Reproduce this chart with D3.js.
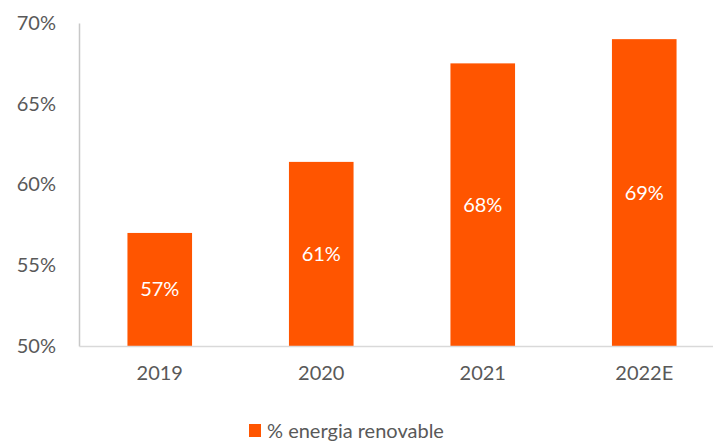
<!DOCTYPE html>
<html>
<head>
<meta charset="utf-8">
<script src="https://cdn.jsdelivr.net/npm/d3@7"></script>
<style>
	body { margin: 0; background: #fff; }
	text { font-family: Lato, "Open Sans", sans-serif; fill: #595959; }
</style>
</head>
<body>
<svg id="chart" width="713" height="441"></svg>
<script>
const categories = ["2019", "2020", "2021", "2022E"];
const values = [0.570, 0.614, 0.675, 0.690];
const valueLabels = ["57%", "61%", "68%", "69%"];
const yTicks = [0.50, 0.55, 0.60, 0.65, 0.70];
const seriesName = "% energia renovable";

const svg = d3.select("#chart");
const margin = { top: 23, left: 79, bottom: 346, right: 725 };
const barColor = "#ff5500";

let x = d3.scaleBand()
	.domain(categories)
	.range([margin.left, margin.right])
	.paddingInner(0.6)
	.paddingOuter(0.3);

let y = d3.scaleLinear()
	.domain([0.5, 0.7])
	.range([margin.bottom, margin.top]);

// bars
svg.selectAll("rect.bar")
	.data(values)
	.enter().append("rect")
	.attr("class", "bar")
	.attr("x", (d, i) => x(categories[i]))
	.attr("width", x.bandwidth())
	.attr("y", d => y(d))
	.attr("height", d => y(0.5) - y(d))
	.attr("fill", barColor);

// value labels in the middle of each bar
svg.selectAll("text.value")
	.data(values)
	.enter().append("text")
	.attr("class", "value")
	.attr("x", (d, i) => x(categories[i]) + x.bandwidth() / 2)
	.attr("y", d => (y(d) + y(0.5)) / 2)
	.attr("dy", "0.35em")
	.attr("text-anchor", "middle")
	.style("fill", "#fff")
	.style("font-size", "20px")
	.text((d, i) => valueLabels[i]);

// y axis
let yAxis = d3.axisLeft(y)
	.tickValues(yTicks)
	.tickFormat(d3.format(".0%"))
	.tickSize(0)
	.tickPadding(23);
let gy = svg.append("g")
	.attr("transform", `translate(${margin.left},0)`)
	.call(yAxis);
gy.select(".domain").attr("stroke", "#c8c8c8").attr("stroke-width", 1.5);
gy.selectAll("text").style("font-size", "20px").style("fill", "#595959");

// x axis
let xAxis = d3.axisBottom(x).tickSize(0).tickPadding(20);
let gx = svg.append("g")
	.attr("transform", `translate(0,${margin.bottom})`)
	.call(xAxis);
gx.select(".domain").attr("stroke", "#d9d9d9").attr("stroke-width", 1.5);
gx.selectAll("text").style("font-size", "20px").style("fill", "#595959");

// legend
let legend = svg.append("g").attr("transform", "translate(249,424)");
legend.append("rect")
	.attr("width", 12)
	.attr("height", 13)
	.attr("fill", barColor);
legend.append("text")
	.attr("x", 18)
	.attr("y", 7)
	.attr("dy", "0.35em")
	.style("font-size", "20px")
	.text(seriesName);
</script>
</body>
</html>
